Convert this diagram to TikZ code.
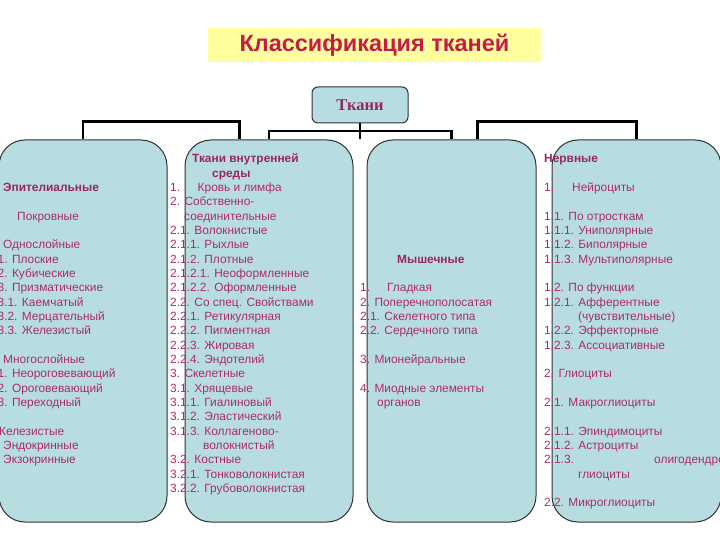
\documentclass[tikz,border=0pt]{standalone}
\usepackage{fontspec}
\setmainfont{Liberation Sans}
\newfontfamily\tkserif{Liberation Serif}
\usetikzlibrary{calc}
\definecolor{boxfill}{RGB}{184,221,225}
\definecolor{boxline}{RGB}{50,50,50}
\definecolor{tcol}{RGB}{170,45,105}
\definecolor{hcol}{RGB}{150,40,95}
\definecolor{titlecol}{RGB}{196,30,70}
\definecolor{titlebg}{RGB}{255,255,160}
\begin{document}
\begin{tikzpicture}[x=1pt,y=-1pt,
  bigbox/.style={draw=boxline, line width=1pt, fill=boxfill, rounded corners=26pt, inner sep=0pt},
  rootbox/.style={draw=boxline, line width=1pt, fill=boxfill, rounded corners=6pt, inner sep=0pt,
    minimum width=96pt, minimum height=36pt, font=\tkserif\bfseries\fontsize{16.5}{18}\selectfont, text=hcol},
  conn/.style={line width=2.5pt, black},
  txt/.style={anchor=base west, inner sep=0pt, text=tcol, font=\fontsize{11.9}{14.3}\selectfont},
  hdr/.style={anchor=base west, inner sep=0pt, text=hcol, font=\bfseries\fontsize{11.9}{14.3}\selectfont}
]
\useasboundingbox (0,0) rectangle (720,540);
\clip (0,0) rectangle (720,540);
\node[fill=titlebg, minimum width=333pt, minimum height=34pt, inner sep=0pt,
  font=\bfseries\fontsize{23.5}{28}\selectfont, text=titlecol] (title) at (374.5,45) {Классификация тканей};
\node[rootbox] (root) at (360,105) {Ткани};
\node[bigbox, minimum width=168pt, minimum height=382pt] (box1) at (83,331) {};
\node[bigbox, minimum width=168pt, minimum height=382pt] (box2) at (269,331) {};
\node[bigbox, minimum width=169pt, minimum height=382pt] (box3) at (451.5,331) {};
\node[bigbox, minimum width=169pt, minimum height=382pt] (box4) at (636.5,331) {};
% connectors
\draw[conn] (root.south) -- (root.south |- box2.north);
\draw[conn] (box2.north) -- ++(0,-8.5) -| (box3.north);
\draw[conn] (box1.north) -- ++(0,-18) -| ($(box2.north west)+(55,0)$);
\draw[conn] ($(box3.north east)+(-59,0)$) -- ++(0,-18) -| (box4.north);
% box 1 text
\foreach \xx/\ll/\sty/\lab [count=\i] in {
  3/2/hdr/{Эпителиальные},
  17/4/txt/{Покровные},
  3/6/txt/{Однослойные},
  -2.5/7/txt/{1. Плоские},
  -2.5/8/txt/{2. Кубические},
  -2.5/9/txt/{3. Призматические},
  -2.5/10/txt/{3.1. Каемчатый},
  -2.5/11/txt/{3.2. Мерцательный},
  -2.5/12/txt/{3.3. Железистый},
  3/14/txt/{Многослойные},
  -2.5/15/txt/{1. Неороговевающий},
  -2.5/16/txt/{2. Ороговевающий},
  -2.5/17/txt/{3. Переходный},
  -5/19/txt/{Железистые},
  3/20/txt/{Эндокринные},
  3/21/txt/{Экзокринные}}
  \node[\sty] (pa\i) at (\xx,{163+14.33*\ll}) {\lab};
% box 2 text
\foreach \xx/\ll/\sty/\lab [count=\i] in {
  192/0/hdr/{Ткани внутренней},
  212/1/hdr/{среды},
  170/2/txt/{1.},
  197.5/2/txt/{Кровь и лимфа},
  170/3/txt/{2. Собственно-},
  184/4/txt/{соединительные},
  170/5/txt/{2.1. Волокнистые},
  170/6/txt/{2.1.1. Рыхлые},
  170/7/txt/{2.1.2. Плотные},
  170/8/txt/{2.1.2.1. Неоформленные},
  170/9/txt/{2.1.2.2. Оформленные},
  170/10/txt/{2.2. Со спец. Свойствами},
  170/11/txt/{2.2.1. Ретикулярная},
  170/12/txt/{2.2.2. Пигментная},
  170/13/txt/{2.2.3. Жировая},
  170/14/txt/{2.2.4. Эндотелий},
  170/15/txt/{3. Скелетные},
  170/16/txt/{3.1. Хрящевые},
  170/17/txt/{3.1.1. Гиалиновый},
  170/18/txt/{3.1.2. Эластический},
  170/19/txt/{3.1.3. Коллагеново-},
  203/20/txt/{волокнистый},
  170/21/txt/{3.2. Костные},
  170/22/txt/{3.2.1. Тонковолокнистая},
  170/23/txt/{3.2.2. Грубоволокнистая}}
  \node[\sty] (pb\i) at (\xx,{163+14.33*\ll}) {\lab};
% box 3 text
\foreach \xx/\ll/\sty/\lab [count=\i] in {
  397/7/hdr/{Мышечные},
  360/9/txt/{1.},
  387/9/txt/{Гладкая},
  360/10/txt/{2. Поперечнополосатая},
  360/11/txt/{2.1. Скелетного типа},
  360/12/txt/{2.2. Сердечного типа},
  360/14/txt/{3. Мионейральные},
  360/16/txt/{4. Миодные элементы},
  377/17/txt/{органов}}
  \node[\sty] (pc\i) at (\xx,{163+14.33*\ll}) {\lab};
% box 4 text
\foreach \xx/\ll/\sty/\lab [count=\i] in {
  544/0/hdr/{Нервные},
  544/2/txt/{1.},
  572/2/txt/{Нейроциты},
  544/4/txt/{1.1. По отросткам},
  544/5/txt/{1.1.1. Униполярные},
  544/6/txt/{1.1.2. Биполярные},
  544/7/txt/{1.1.3. Мультиполярные},
  544/9/txt/{1.2. По функции},
  544/10/txt/{1.2.1. Афферентные},
  578/11/txt/{(чувствительные)},
  544/12/txt/{1.2.2. Эффекторные},
  544/13/txt/{1.2.3. Ассоциативные},
  544/15/txt/{2. Глиоциты},
  544/17/txt/{2.1. Макроглиоциты},
  544/19/txt/{2.1.1. Эпиндимоциты},
  544/20/txt/{2.1.2. Астроциты},
  544/21/txt/{2.1.3.},
  654/21/txt/{олигодендро},
  578/22/txt/{глиоциты},
  544/24/txt/{2.2. Микроглиоциты}}
  \node[\sty] (pd\i) at (\xx,{163+14.33*\ll}) {\lab};
\end{tikzpicture}
\end{document}
